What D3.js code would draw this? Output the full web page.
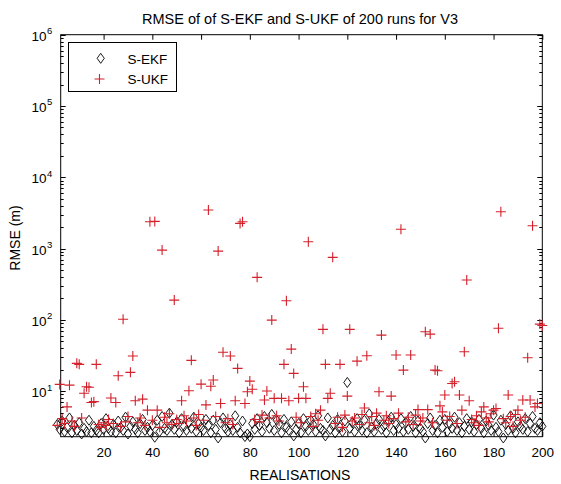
<!DOCTYPE html>
<html><head><meta charset="utf-8">
<script src="https://cdn.jsdelivr.net/npm/d3@7"></script>
<style>
html,body{margin:0;padding:0;background:#fff;}
svg{display:block;font-family:"Liberation Sans",Arial,sans-serif;}
</style></head>
<body>
<svg id="chart" width="561" height="484"></svg>
<script>
// ---------- data ----------
const title = "RMSE of of S-EKF and S-UKF of 200 runs for V3";
const xLabel = "REALISATIONS";
const yLabel = "RMSE (m)";
const seriesNames = ["S-EKF", "S-UKF"];
const xTicks = [20, 40, 60, 80, 100, 120, 140, 160, 180, 200];
const yTickExps = [1, 2, 3, 4, 5, 6];
const realisations = d3.range(1, 201);

const ekf = [
 3.4,2.9,3.8,2.7,3.1,4.2,2.6,3.3,2.8,3.6,2.5,3.0,2.7,3.9,2.6,3.2,2.8,2.6,3.5,2.9,
 4.1,3.0,2.7,3.4,2.6,3.8,3.1,2.8,4.3,2.5,3.2,3.7,2.9,2.6,3.5,4.0,2.8,3.1,2.7,3.3,
 2.25,3.9,2.7,4.4,3.0,2.8,4.9,3.4,2.9,3.7,2.6,4.1,3.2,2.8,3.6,3.0,4.3,2.7,3.5,3.1,
 2.8,4.0,3.3,2.6,3.9,2.9,2.2,3.6,4.2,3.0,2.7,3.4,2.8,4.5,3.1,2.6,3.8,2.3,2.5,2.3,
 3.5,2.9,4.1,3.3,2.7,4.4,3.6,3.0,4.7,2.8,3.9,3.4,2.6,4.0,3.1,2.8,3.7,2.35,2.9,3.5,
 2.6,4.1,3.2,2.8,3.9,3.4,2.7,4.5,3.0,2.8,2.35,4.2,2.9,3.3,2.6,4.0,3.1,2.7,3.8,13.2,
 3.0,3.6,2.7,4.1,3.3,2.8,3.9,2.6,4.8,3.1,2.7,3.5,4.0,2.9,3.2,2.6,3.8,4.3,2.8,3.4,
 3.0,4.1,2.7,3.6,2.9,4.4,3.2,2.6,3.8,3.0,2.7,2.2,3.5,4.2,2.8,3.3,2.6,3.9,3.1,4.0,
 2.7,3.5,3.0,4.3,2.8,3.6,2.6,3.2,4.1,2.9,3.7,2.7,3.4,4.0,3.0,2.6,3.8,3.3,2.8,4.6,
 3.1,2.7,3.9,2.2,3.4,2.8,4.5,3.0,2.6,3.7,3.2,2.9,4.1,2.7,3.5,4.4,3.0,2.8,3.6,3.2
];

const ukf = [
 3.3,12.4,4.1,3.5,6.0,12.1,3.8,3.2,24.5,23.7,4.2,9.3,11.5,11.3,6.9,7.1,23.7,3.4,3.1,3.6,
 3.3,4.0,8.0,3.5,6.9,16.4,3.2,102,3.7,4.4,18.3,31,7.3,3.6,4.2,7.7,3.3,5.4,2375,3.9,
 2400,5.4,3.1,950,4.3,3.6,4.8,3.4,189,4.0,3.5,7.3,4.5,3.8,10.1,27,4.2,3.3,4.7,12.5,
 3.9,6.4,3470,11.7,14.3,4.4,920,6.7,35,3.6,4.1,31,3.4,7.3,20.8,2250,2375,6.7,9.8,13.8,
 10.6,4.0,394,3.7,4.6,7.5,10.0,4.2,99,7.9,4.5,3.8,7.9,23.7,185,7.3,38.8,17.7,4.3,7.9,
 3.6,11.5,7.9,1245,4.4,3.2,4.8,3.9,5.4,73.5,23.7,7.9,9.3,752,3.5,4.3,23.7,3.1,4.6,8.5,
 73.5,3.8,4.2,26.3,3.4,4.7,5.8,31.3,3.6,4.4,3.3,4.9,9.8,61,3.9,4.5,3.5,8.5,4.1,32,
 4.9,1860,19.7,3.7,4.3,32,3.4,4.6,5.5,3.8,4.2,68,5.5,63,3.6,19.7,19.3,6.2,5.1,8.8,
 3.9,4.4,12.8,13.5,3.5,8.8,5.4,35.6,361,7.3,4.0,3.6,4.5,3.3,5.1,6.0,4.2,3.7,4.8,5.4,
 5.7,76,3280,4.1,3.6,8.8,4.4,3.2,4.7,5.4,3.9,7.5,4.3,29.3,7.5,2090,6.0,6.7,87,83
];

// ---------- layout ----------
const svg = d3.select("#chart");
const L = 60.7, R = 542.3, T = 34.7, B = 436.7;
const red = "#d3202b";

const x = d3.scaleLinear().domain([2.4, 200]).range([L, R]);
const y = d3.scaleLog().domain([2.29, 1e6]).range([B, T]);

// plot box
svg.append("rect").attr("x", L).attr("y", T).attr("width", R - L).attr("height", B - T)
  .attr("fill", "#fff").attr("stroke", "#000").attr("stroke-width", 1);

// bottom axis with inward ticks
const gx = svg.append("g").attr("transform", `translate(0,${B})`)
  .call(d3.axisBottom(x).tickValues(xTicks).tickSizeInner(-5).tickSizeOuter(0).tickPadding(10.5));
gx.select(".domain").remove();
gx.selectAll("text").attr("font-size", 13.5).attr("fill", "#000").style("font-family", "Liberation Sans, Arial, sans-serif");
// top axis ticks
const gxt = svg.append("g").attr("transform", `translate(0,${T})`)
  .call(d3.axisTop(x).tickValues(xTicks).tickSizeInner(-5).tickSizeOuter(0).tickFormat(""));
gxt.select(".domain").remove();

// y ticks (major + minor), left and right, inward
const majors = yTickExps.map(e => Math.pow(10, e));
const minors = [];
for (let e = 0; e <= 5; e++) for (let m = 2; m <= 9; m++) {
  const v = m * Math.pow(10, e);
  if (v >= 2.29 && v <= 1e6) minors.push(v);
}
const tickG = svg.append("g").attr("stroke", "#000").attr("stroke-width", 1);
majors.forEach(v => {
  const yy = Math.round(y(v)) + 0.5;
  tickG.append("line").attr("x1", L).attr("x2", L + 5).attr("y1", yy).attr("y2", yy);
  tickG.append("line").attr("x1", R).attr("x2", R - 5).attr("y1", yy).attr("y2", yy);
});
minors.forEach(v => {
  const yy = Math.round(y(v)) + 0.5;
  tickG.append("line").attr("x1", L).attr("x2", L + 3).attr("y1", yy).attr("y2", yy);
  tickG.append("line").attr("x1", R).attr("x2", R - 3).attr("y1", yy).attr("y2", yy);
});

// y tick labels 10^n
const yl = svg.append("g");
yTickExps.forEach(e => {
  const yy = y(Math.pow(10, e));
  yl.append("text").attr("x", 46.5).attr("y", yy + 6).attr("text-anchor", "end")
    .attr("font-size", 13.5).attr("fill", "#000").text("10");
  yl.append("text").attr("x", 47).attr("y", yy - 0.5).attr("font-size", 9.5).attr("fill", "#000").text(String(e));
});

// markers
const diamond = (cx, cy) => `M${cx},${cy - 5}L${cx + 3.6},${cy}L${cx},${cy + 5}L${cx - 3.6},${cy}Z`;
const plus = (cx, cy) => `M${cx - 5},${cy}H${cx + 5}M${cx},${cy - 5}V${cy + 5}`;

svg.append("g").selectAll("path").data(realisations.map((r, i) => [r, ekf[i]])).join("path")
  .attr("d", d => diamond(x(d[0]), y(d[1])))
  .attr("fill", "none").attr("stroke", "#000").attr("stroke-width", 0.9);

svg.append("g").selectAll("path").data(realisations.map((r, i) => [r, ukf[i]])).join("path")
  .attr("d", d => plus(x(d[0]), y(d[1])))
  .attr("fill", "none").attr("stroke", red).attr("stroke-width", 1.1);

// legend
const lg = svg.append("g");
lg.append("rect").attr("x", 68.5).attr("y", 42.5).attr("width", 108).attr("height", 49)
  .attr("fill", "#fff").attr("stroke", "#000").attr("stroke-width", 1);
lg.append("path").attr("d", diamond(100.7, 58.3)).attr("fill", "none").attr("stroke", "#000").attr("stroke-width", 0.9);
lg.append("path").attr("d", plus(99.5, 79)).attr("fill", "none").attr("stroke", red).attr("stroke-width", 1.1);
lg.append("text").attr("x", 127.5).attr("y", 63.5).attr("font-size", 13.5).text(seriesNames[0]);
lg.append("text").attr("x", 127.5).attr("y", 84).attr("font-size", 13.5).text(seriesNames[1]);

// title and axis labels
svg.append("text").attr("x", 300).attr("y", 24).attr("text-anchor", "middle")
  .attr("font-size", 14.5).attr("fill", "#000").text(title);
svg.append("text").attr("x", 300).attr("y", 480).attr("text-anchor", "middle")
  .attr("font-size", 14).attr("fill", "#000").text(xLabel);
svg.append("text").attr("transform", "translate(19.5,238) rotate(-90)").attr("text-anchor", "middle")
  .attr("font-size", 14).attr("fill", "#000").text(yLabel);
</script>
</body></html>
